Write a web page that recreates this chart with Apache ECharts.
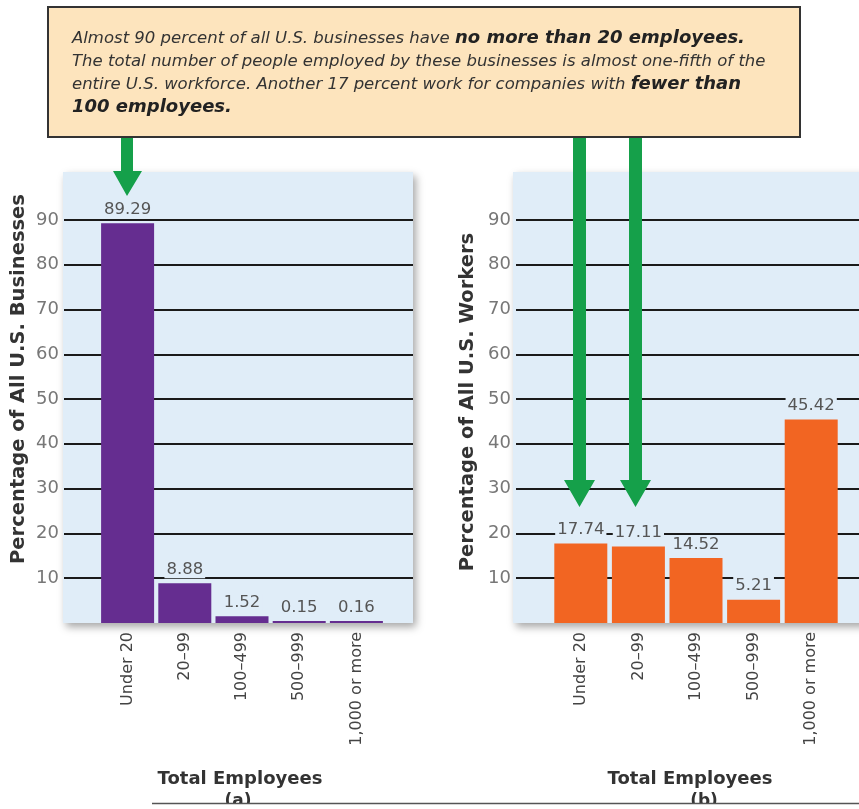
<!DOCTYPE html>
<html>
<head>
<meta charset="utf-8">
<script src="https://cdn.jsdelivr.net/npm/echarts@6/dist/echarts.min.js"></script>
<style>
html,body{margin:0;padding:0;background:#fff;}
#c{width:859px;height:809px;}
</style>
</head>
<body>
<div id="c"></div>
<script>
const categories = ['Under 20', '20–99', '100–499', '500–999', '1,000 or more'];
const businessesPct = [89.29, 8.88, 1.52, 0.15, 0.16];
const workersPct = [17.74, 17.11, 14.52, 5.21, 45.42];
const yTicks = { min: 10, max: 90, interval: 10 };

const FONT = '"DejaVu Sans", sans-serif';
const PANEL = '#e0edf8';
const GREEN = '#15a04a';

const chart = echarts.init(document.getElementById('c'));

function tickAxis(gridIndex) {
  return {
    type: 'value', gridIndex, min: yTicks.min, max: yTicks.max, interval: yTicks.interval,
    axisLine: { show: false }, axisTick: { show: false },
    axisLabel: { color: '#777', fontSize: 18, fontFamily: FONT, margin: 5 },
    splitLine: { show: true, lineStyle: { color: '#1a1a1a', width: 2 } }
  };
}
function barYAxis(gridIndex) {
  return { type: 'value', gridIndex, min: 0, max: yTicks.max, show: false, splitLine: { show: false } };
}
function catAxis(gridIndex) {
  return {
    type: 'category', gridIndex, data: categories,
    axisLine: { show: false }, axisTick: { show: false },
    axisLabel: { rotate: 90, color: '#444', fontSize: 16, fontFamily: FONT, margin: 9, interval: 0 }
  };
}
function barSeries(idx, data, color) {
  return {
    type: 'bar', xAxisIndex: idx, yAxisIndex: idx, data, barWidth: 53, barMinHeight: 2,
    itemStyle: { color },
    z: 3,
    label: {
      show: true, position: 'top', distance: 5, color: '#555', fontSize: 16.5, fontFamily: FONT,
      backgroundColor: PANEL, padding: [1, 2, 0, 2],
      formatter: p => p.value.toFixed(2)
    }
  };
}

const option = {
  animation: false,
  grid: [
    { left: 64, right: 446, top: 220, bottom: 231 },
    { left: 99, right: 474, top: 220, bottom: 186 },
    { left: 516, right: 0, top: 220, bottom: 231 },
    { left: 552, right: 19, top: 220, bottom: 186 }
  ],
  xAxis: [
    { type: 'value', gridIndex: 0, show: false },
    catAxis(1),
    { type: 'value', gridIndex: 2, show: false },
    catAxis(3)
  ],
  yAxis: [tickAxis(0), barYAxis(1), tickAxis(2), barYAxis(3)],
  series: [
    barSeries(1, businessesPct, '#652d90'),
    barSeries(3, workersPct, '#f26522')
  ],
  graphic: [
    // panels
    { type: 'rect', z: -1, shape: { x: 63, y: 172, width: 350, height: 451 },
      style: { fill: PANEL, shadowBlur: 8, shadowColor: 'rgba(0,0,0,0.35)', shadowOffsetX: 3, shadowOffsetY: 4 } },
    { type: 'rect', z: -1, shape: { x: 513, y: 172, width: 360, height: 451 },
      style: { fill: PANEL, shadowBlur: 8, shadowColor: 'rgba(0,0,0,0.35)', shadowOffsetX: 3, shadowOffsetY: 4 } },
    // callout box
    { type: 'rect', z: 50, shape: { x: 48, y: 7, width: 752, height: 130 },
      style: { fill: '#fde4bd', stroke: '#333', lineWidth: 2 } },
    { type: 'text', z: 51, left: 72, top: 27,
      style: {
        text: 'Almost 90 percent of all U.S. businesses have {b|no more than 20 employees.}\n' +
              'The total number of people employed by these businesses is almost one-fifth of the\n' +
              'entire U.S. workforce. Another 17 percent work for companies with {b|fewer than}\n' +
              '{b|100 employees.}',
        fontFamily: FONT, fontSize: 16.5, fontStyle: 'italic', fill: '#333', lineHeight: 23,
        rich: { b: { fontFamily: FONT, fontSize: 18, fontWeight: 'bold', fontStyle: 'italic', fill: '#222', lineHeight: 23 } }
      } },
    // arrows
    { type: 'polygon', z: 40, shape: { points: [[121,137],[133,137],[133,171],[142,171],[127,196],[113,171],[121,171]] }, style: { fill: GREEN } },
    { type: 'polygon', z: 40, shape: { points: [[573,137],[586,137],[586,480],[595,480],[579.5,507],[564,480],[573,480]] }, style: { fill: GREEN } },
    { type: 'polygon', z: 40, shape: { points: [[629,137],[642,137],[642,480],[651,480],[635.5,507],[620,480],[629,480]] }, style: { fill: GREEN } },
    // y axis names
    { type: 'text', z: 10, x: 19, y: 379, rotation: Math.PI / 2,
      style: { text: 'Percentage of All U.S. Businesses', fontFamily: FONT, fontSize: 19.5, fontWeight: 'bold', fill: '#333', align: 'center', verticalAlign: 'middle' } },
    { type: 'text', z: 10, x: 468, y: 402, rotation: Math.PI / 2,
      style: { text: 'Percentage of All U.S. Workers', fontFamily: FONT, fontSize: 19.5, fontWeight: 'bold', fill: '#333', align: 'center', verticalAlign: 'middle' } },
    // x axis names
    { type: 'text', z: 10, x: 240, y: 779,
      style: { text: 'Total Employees', fontFamily: FONT, fontSize: 18, fontWeight: 'bold', fill: '#333', align: 'center', verticalAlign: 'middle' } },
    { type: 'text', z: 10, x: 238, y: 802,
      style: { text: '(a)', fontFamily: FONT, fontSize: 17, fontWeight: 'bold', fill: '#333', align: 'center', verticalAlign: 'middle' } },
    { type: 'text', z: 10, x: 690, y: 779,
      style: { text: 'Total Employees', fontFamily: FONT, fontSize: 18, fontWeight: 'bold', fill: '#333', align: 'center', verticalAlign: 'middle' } },
    { type: 'text', z: 10, x: 704, y: 802,
      style: { text: '(b)', fontFamily: FONT, fontSize: 17, fontWeight: 'bold', fill: '#333', align: 'center', verticalAlign: 'middle' } },
    // bottom rule and mask
    { type: 'rect', z: 20, shape: { x: 0, y: 804, width: 859, height: 5 }, style: { fill: '#fff' } },
    { type: 'line', z: 21, shape: { x1: 152, y1: 803.5, x2: 859, y2: 803.5 }, style: { stroke: '#555', lineWidth: 1.5 } }
  ]
};
chart.setOption(option);
</script>
</body>
</html>
